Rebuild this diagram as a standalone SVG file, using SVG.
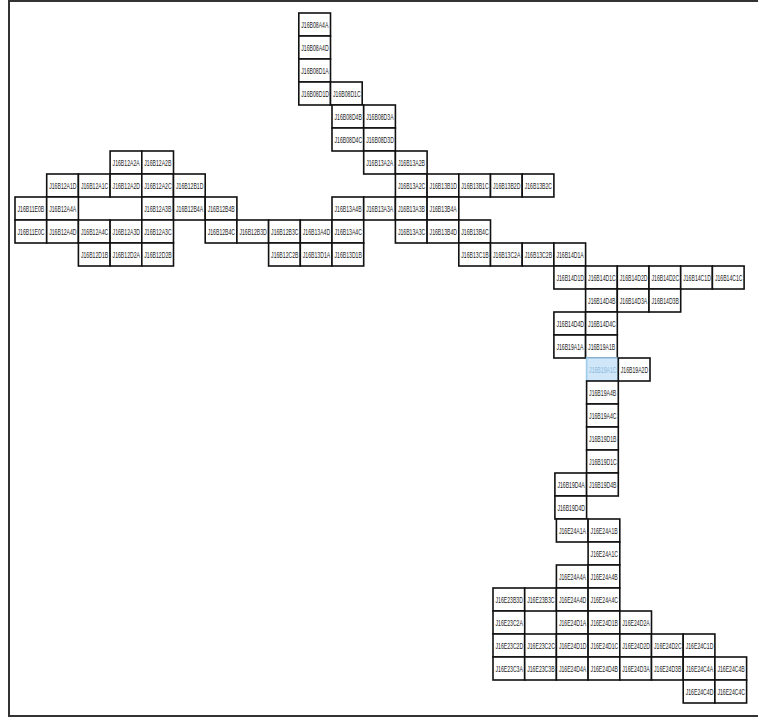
<svg xmlns="http://www.w3.org/2000/svg" width="758" height="727" viewBox="0 0 758 727">
<style>
.b{fill:#fff;stroke:#111;stroke-width:1.6}
.t{font-family:"Liberation Sans",Arial,sans-serif;font-size:9.5px;fill:#1a1a1a}
.h{fill:#cfe7f9;stroke:#9fcbeb;stroke-width:1.6}
.ht{font-family:"Liberation Sans",Arial,sans-serif;font-size:9.5px;fill:#8ab8dc}
</style>
<rect x="0" y="0" width="758" height="727" fill="#fff"/>
<rect x="9" y="1" width="760" height="715" fill="none" stroke="#333" stroke-width="2"/>
<g id="connectors"/>
<g id="nodes">
<g id="J16B08A4A"><rect class="b" x="298.8" y="13" width="31.7" height="23"/><text class="t" transform="translate(301.3 28) scale(0.54 1)">J16B08A4A</text></g>
<g id="J16B08A4D"><rect class="b" x="298.8" y="36" width="31.7" height="23"/><text class="t" transform="translate(301.3 51) scale(0.54 1)">J16B08A4D</text></g>
<g id="J16B08D1A"><rect class="b" x="298.8" y="59" width="31.7" height="23"/><text class="t" transform="translate(301.3 74) scale(0.54 1)">J16B08D1A</text></g>
<g id="J16B08D1D"><rect class="b" x="298.8" y="82" width="31.7" height="23"/><text class="t" transform="translate(301.3 97) scale(0.54 1)">J16B08D1D</text></g>
<g id="J16B08D1C"><rect class="b" x="330.5" y="82" width="31.7" height="23"/><text class="t" transform="translate(333 97) scale(0.54 1)">J16B08D1C</text></g>
<g id="J16B08D4B"><rect class="b" x="332" y="105" width="31.7" height="23"/><text class="t" transform="translate(334.5 120) scale(0.54 1)">J16B08D4B</text></g>
<g id="J16B08D3A"><rect class="b" x="363.7" y="105" width="31.7" height="23"/><text class="t" transform="translate(366.2 120) scale(0.54 1)">J16B08D3A</text></g>
<g id="J16B08D4C"><rect class="b" x="332" y="128" width="31.7" height="23"/><text class="t" transform="translate(334.5 143) scale(0.54 1)">J16B08D4C</text></g>
<g id="J16B08D3D"><rect class="b" x="363.7" y="128" width="31.7" height="23"/><text class="t" transform="translate(366.2 143) scale(0.54 1)">J16B08D3D</text></g>
<g id="J16B12A2A"><rect class="b" x="110.1" y="151" width="31.7" height="23"/><text class="t" transform="translate(112.6 166) scale(0.54 1)">J16B12A2A</text></g>
<g id="J16B12A2B"><rect class="b" x="141.8" y="151" width="31.7" height="23"/><text class="t" transform="translate(144.3 166) scale(0.54 1)">J16B12A2B</text></g>
<g id="J16B13A2A"><rect class="b" x="363.7" y="151" width="31.7" height="23"/><text class="t" transform="translate(366.2 166) scale(0.54 1)">J16B13A2A</text></g>
<g id="J16B13A2B"><rect class="b" x="395.4" y="151" width="31.7" height="23"/><text class="t" transform="translate(397.9 166) scale(0.54 1)">J16B13A2B</text></g>
<g id="J16B12A1D"><rect class="b" x="46.7" y="174" width="31.7" height="23"/><text class="t" transform="translate(49.2 189) scale(0.54 1)">J16B12A1D</text></g>
<g id="J16B12A1C"><rect class="b" x="78.4" y="174" width="31.7" height="23"/><text class="t" transform="translate(80.9 189) scale(0.54 1)">J16B12A1C</text></g>
<g id="J16B12A2D"><rect class="b" x="110.1" y="174" width="31.7" height="23"/><text class="t" transform="translate(112.6 189) scale(0.54 1)">J16B12A2D</text></g>
<g id="J16B12A2C"><rect class="b" x="141.8" y="174" width="31.7" height="23"/><text class="t" transform="translate(144.3 189) scale(0.54 1)">J16B12A2C</text></g>
<g id="J16B12B1D"><rect class="b" x="173.5" y="174" width="31.7" height="23"/><text class="t" transform="translate(176 189) scale(0.54 1)">J16B12B1D</text></g>
<g id="J16B13A2C"><rect class="b" x="395.4" y="174" width="31.7" height="23"/><text class="t" transform="translate(397.9 189) scale(0.54 1)">J16B13A2C</text></g>
<g id="J16B13B1D"><rect class="b" x="427.1" y="174" width="31.7" height="23"/><text class="t" transform="translate(429.6 189) scale(0.54 1)">J16B13B1D</text></g>
<g id="J16B13B1C"><rect class="b" x="458.8" y="174" width="31.7" height="23"/><text class="t" transform="translate(461.3 189) scale(0.54 1)">J16B13B1C</text></g>
<g id="J16B13B2D"><rect class="b" x="490.5" y="174" width="31.7" height="23"/><text class="t" transform="translate(493 189) scale(0.54 1)">J16B13B2D</text></g>
<g id="J16B13B2C"><rect class="b" x="522.2" y="174" width="31.7" height="23"/><text class="t" transform="translate(524.7 189) scale(0.54 1)">J16B13B2C</text></g>
<g id="J16B11E0B"><rect class="b" x="15" y="197" width="31.7" height="23"/><text class="t" transform="translate(17.5 212) scale(0.54 1)">J16B11E0B</text></g>
<g id="J16B12A4A"><rect class="b" x="46.7" y="197" width="31.7" height="23"/><text class="t" transform="translate(49.2 212) scale(0.54 1)">J16B12A4A</text></g>
<g id="J16B12A3B"><rect class="b" x="141.8" y="197" width="31.7" height="23"/><text class="t" transform="translate(144.3 212) scale(0.54 1)">J16B12A3B</text></g>
<g id="J16B12B4A"><rect class="b" x="173.5" y="197" width="31.7" height="23"/><text class="t" transform="translate(176 212) scale(0.54 1)">J16B12B4A</text></g>
<g id="J16B12B4B"><rect class="b" x="205.2" y="197" width="31.7" height="23"/><text class="t" transform="translate(207.7 212) scale(0.54 1)">J16B12B4B</text></g>
<g id="J16B13A4B"><rect class="b" x="332" y="197" width="31.7" height="23"/><text class="t" transform="translate(334.5 212) scale(0.54 1)">J16B13A4B</text></g>
<g id="J16B13A3A"><rect class="b" x="363.7" y="197" width="31.7" height="23"/><text class="t" transform="translate(366.2 212) scale(0.54 1)">J16B13A3A</text></g>
<g id="J16B13A3B"><rect class="b" x="395.4" y="197" width="31.7" height="23"/><text class="t" transform="translate(397.9 212) scale(0.54 1)">J16B13A3B</text></g>
<g id="J16B13B4A"><rect class="b" x="427.1" y="197" width="31.7" height="23"/><text class="t" transform="translate(429.6 212) scale(0.54 1)">J16B13B4A</text></g>
<g id="J16B11E0C"><rect class="b" x="15" y="220" width="31.7" height="23"/><text class="t" transform="translate(17.5 235) scale(0.54 1)">J16B11E0C</text></g>
<g id="J16B12A4D"><rect class="b" x="46.7" y="220" width="31.7" height="23"/><text class="t" transform="translate(49.2 235) scale(0.54 1)">J16B12A4D</text></g>
<g id="J16B12A4C"><rect class="b" x="78.4" y="220" width="31.7" height="23"/><text class="t" transform="translate(80.9 235) scale(0.54 1)">J16B12A4C</text></g>
<g id="J16B12A3D"><rect class="b" x="110.1" y="220" width="31.7" height="23"/><text class="t" transform="translate(112.6 235) scale(0.54 1)">J16B12A3D</text></g>
<g id="J16B12A3C"><rect class="b" x="141.8" y="220" width="31.7" height="23"/><text class="t" transform="translate(144.3 235) scale(0.54 1)">J16B12A3C</text></g>
<g id="J16B12B4C"><rect class="b" x="205.2" y="220" width="31.7" height="23"/><text class="t" transform="translate(207.7 235) scale(0.54 1)">J16B12B4C</text></g>
<g id="J16B12B3D"><rect class="b" x="236.9" y="220" width="31.7" height="23"/><text class="t" transform="translate(239.4 235) scale(0.54 1)">J16B12B3D</text></g>
<g id="J16B12B3C"><rect class="b" x="268.6" y="220" width="31.7" height="23"/><text class="t" transform="translate(271.1 235) scale(0.54 1)">J16B12B3C</text></g>
<g id="J16B13A4D"><rect class="b" x="300.3" y="220" width="31.7" height="23"/><text class="t" transform="translate(302.8 235) scale(0.54 1)">J16B13A4D</text></g>
<g id="J16B13A4C"><rect class="b" x="332" y="220" width="31.7" height="23"/><text class="t" transform="translate(334.5 235) scale(0.54 1)">J16B13A4C</text></g>
<g id="J16B13A3C"><rect class="b" x="395.4" y="220" width="31.7" height="23"/><text class="t" transform="translate(397.9 235) scale(0.54 1)">J16B13A3C</text></g>
<g id="J16B13B4D"><rect class="b" x="427.1" y="220" width="31.7" height="23"/><text class="t" transform="translate(429.6 235) scale(0.54 1)">J16B13B4D</text></g>
<g id="J16B13B4C"><rect class="b" x="458.8" y="220" width="31.7" height="23"/><text class="t" transform="translate(461.3 235) scale(0.54 1)">J16B13B4C</text></g>
<g id="J16B12D1B"><rect class="b" x="78.4" y="243" width="31.7" height="23"/><text class="t" transform="translate(80.9 258) scale(0.54 1)">J16B12D1B</text></g>
<g id="J16B12D2A"><rect class="b" x="110.1" y="243" width="31.7" height="23"/><text class="t" transform="translate(112.6 258) scale(0.54 1)">J16B12D2A</text></g>
<g id="J16B12D2B"><rect class="b" x="141.8" y="243" width="31.7" height="23"/><text class="t" transform="translate(144.3 258) scale(0.54 1)">J16B12D2B</text></g>
<g id="J16B12C2B"><rect class="b" x="268.6" y="243" width="31.7" height="23"/><text class="t" transform="translate(271.1 258) scale(0.54 1)">J16B12C2B</text></g>
<g id="J16B13D1A"><rect class="b" x="300.3" y="243" width="31.7" height="23"/><text class="t" transform="translate(302.8 258) scale(0.54 1)">J16B13D1A</text></g>
<g id="J16B13D1B"><rect class="b" x="332" y="243" width="31.7" height="23"/><text class="t" transform="translate(334.5 258) scale(0.54 1)">J16B13D1B</text></g>
<g id="J16B13C1B"><rect class="b" x="458.8" y="243" width="31.7" height="23"/><text class="t" transform="translate(461.3 258) scale(0.54 1)">J16B13C1B</text></g>
<g id="J16B13C2A"><rect class="b" x="490.5" y="243" width="31.7" height="23"/><text class="t" transform="translate(493 258) scale(0.54 1)">J16B13C2A</text></g>
<g id="J16B13C2B"><rect class="b" x="522.2" y="243" width="31.7" height="23"/><text class="t" transform="translate(524.7 258) scale(0.54 1)">J16B13C2B</text></g>
<g id="J16B14D1A"><rect class="b" x="553.9" y="243" width="31.7" height="23"/><text class="t" transform="translate(556.4 258) scale(0.54 1)">J16B14D1A</text></g>
<g id="J16B14D1D"><rect class="b" x="553.9" y="266" width="31.7" height="23"/><text class="t" transform="translate(556.4 281) scale(0.54 1)">J16B14D1D</text></g>
<g id="J16B14D1C"><rect class="b" x="585.6" y="266" width="31.7" height="23"/><text class="t" transform="translate(588.1 281) scale(0.54 1)">J16B14D1C</text></g>
<g id="J16B14D2D"><rect class="b" x="617.3" y="266" width="31.7" height="23"/><text class="t" transform="translate(619.8 281) scale(0.54 1)">J16B14D2D</text></g>
<g id="J16B14D2C"><rect class="b" x="649" y="266" width="31.7" height="23"/><text class="t" transform="translate(651.5 281) scale(0.54 1)">J16B14D2C</text></g>
<g id="J16B14C1D"><rect class="b" x="680.7" y="266" width="31.7" height="23"/><text class="t" transform="translate(683.2 281) scale(0.54 1)">J16B14C1D</text></g>
<g id="J16B14C1C"><rect class="b" x="712.4" y="266" width="31.7" height="23"/><text class="t" transform="translate(714.9 281) scale(0.54 1)">J16B14C1C</text></g>
<g id="J16B14D4B"><rect class="b" x="585.6" y="289" width="31.7" height="23"/><text class="t" transform="translate(588.1 304) scale(0.54 1)">J16B14D4B</text></g>
<g id="J16B14D3A"><rect class="b" x="617.3" y="289" width="31.7" height="23"/><text class="t" transform="translate(619.8 304) scale(0.54 1)">J16B14D3A</text></g>
<g id="J16B14D3B"><rect class="b" x="649" y="289" width="31.7" height="23"/><text class="t" transform="translate(651.5 304) scale(0.54 1)">J16B14D3B</text></g>
<g id="J16B14D4D"><rect class="b" x="553.9" y="312" width="31.7" height="23"/><text class="t" transform="translate(556.4 327) scale(0.54 1)">J16B14D4D</text></g>
<g id="J16B14D4C"><rect class="b" x="585.6" y="312" width="31.7" height="23"/><text class="t" transform="translate(588.1 327) scale(0.54 1)">J16B14D4C</text></g>
<g id="J16B19A1A"><rect class="b" x="553.9" y="335" width="31.7" height="23"/><text class="t" transform="translate(556.4 350) scale(0.54 1)">J16B19A1A</text></g>
<g id="J16B19A1B"><rect class="b" x="585.6" y="335" width="31.7" height="23"/><text class="t" transform="translate(588.1 350) scale(0.54 1)">J16B19A1B</text></g>
<g id="J16B19A1C"><rect class="h" x="586.6" y="358" width="31.7" height="23"/><text class="ht" transform="translate(589.1 373) scale(0.54 1)">J16B19A1C</text></g>
<g id="J16B19A2D"><rect class="b" x="618.3" y="358" width="31.7" height="23"/><text class="t" transform="translate(620.8 373) scale(0.54 1)">J16B19A2D</text></g>
<g id="J16B19A4B"><rect class="b" x="586.6" y="381" width="31.7" height="23"/><text class="t" transform="translate(589.1 396) scale(0.54 1)">J16B19A4B</text></g>
<g id="J16B19A4C"><rect class="b" x="586.6" y="404" width="31.7" height="23"/><text class="t" transform="translate(589.1 419) scale(0.54 1)">J16B19A4C</text></g>
<g id="J16B19D1B"><rect class="b" x="586.6" y="427" width="31.7" height="23"/><text class="t" transform="translate(589.1 442) scale(0.54 1)">J16B19D1B</text></g>
<g id="J16B19D1C"><rect class="b" x="586.6" y="450" width="31.7" height="23"/><text class="t" transform="translate(589.1 465) scale(0.54 1)">J16B19D1C</text></g>
<g id="J16B19D4A"><rect class="b" x="554.9" y="473" width="31.7" height="23"/><text class="t" transform="translate(557.4 488) scale(0.54 1)">J16B19D4A</text></g>
<g id="J16B19D4B"><rect class="b" x="586.6" y="473" width="31.7" height="23"/><text class="t" transform="translate(589.1 488) scale(0.54 1)">J16B19D4B</text></g>
<g id="J16B19D4D"><rect class="b" x="554.9" y="496" width="31.7" height="23"/><text class="t" transform="translate(557.4 511) scale(0.54 1)">J16B19D4D</text></g>
<g id="J16E24A1A"><rect class="b" x="556.4" y="519" width="31.7" height="23"/><text class="t" transform="translate(558.9 534) scale(0.54 1)">J16E24A1A</text></g>
<g id="J16E24A1B"><rect class="b" x="588.1" y="519" width="31.7" height="23"/><text class="t" transform="translate(590.6 534) scale(0.54 1)">J16E24A1B</text></g>
<g id="J16E24A1C"><rect class="b" x="588.1" y="542" width="31.7" height="23"/><text class="t" transform="translate(590.6 557) scale(0.54 1)">J16E24A1C</text></g>
<g id="J16E24A4A"><rect class="b" x="556.4" y="565" width="31.7" height="23"/><text class="t" transform="translate(558.9 580) scale(0.54 1)">J16E24A4A</text></g>
<g id="J16E24A4B"><rect class="b" x="588.1" y="565" width="31.7" height="23"/><text class="t" transform="translate(590.6 580) scale(0.54 1)">J16E24A4B</text></g>
<g id="J16E23B3D"><rect class="b" x="493" y="588" width="31.7" height="23"/><text class="t" transform="translate(495.5 603) scale(0.54 1)">J16E23B3D</text></g>
<g id="J16E23B3C"><rect class="b" x="524.7" y="588" width="31.7" height="23"/><text class="t" transform="translate(527.2 603) scale(0.54 1)">J16E23B3C</text></g>
<g id="J16E24A4D"><rect class="b" x="556.4" y="588" width="31.7" height="23"/><text class="t" transform="translate(558.9 603) scale(0.54 1)">J16E24A4D</text></g>
<g id="J16E24A4C"><rect class="b" x="588.1" y="588" width="31.7" height="23"/><text class="t" transform="translate(590.6 603) scale(0.54 1)">J16E24A4C</text></g>
<g id="J16E23C2A"><rect class="b" x="493" y="611" width="31.7" height="23"/><text class="t" transform="translate(495.5 626) scale(0.54 1)">J16E23C2A</text></g>
<g id="J16E24D1A"><rect class="b" x="556.4" y="611" width="31.7" height="23"/><text class="t" transform="translate(558.9 626) scale(0.54 1)">J16E24D1A</text></g>
<g id="J16E24D1B"><rect class="b" x="588.1" y="611" width="31.7" height="23"/><text class="t" transform="translate(590.6 626) scale(0.54 1)">J16E24D1B</text></g>
<g id="J16E24D2A"><rect class="b" x="619.8" y="611" width="31.7" height="23"/><text class="t" transform="translate(622.3 626) scale(0.54 1)">J16E24D2A</text></g>
<g id="J16E23C2D"><rect class="b" x="493" y="634" width="31.7" height="23"/><text class="t" transform="translate(495.5 649) scale(0.54 1)">J16E23C2D</text></g>
<g id="J16E23C2C"><rect class="b" x="524.7" y="634" width="31.7" height="23"/><text class="t" transform="translate(527.2 649) scale(0.54 1)">J16E23C2C</text></g>
<g id="J16E24D1D"><rect class="b" x="556.4" y="634" width="31.7" height="23"/><text class="t" transform="translate(558.9 649) scale(0.54 1)">J16E24D1D</text></g>
<g id="J16E24D1C"><rect class="b" x="588.1" y="634" width="31.7" height="23"/><text class="t" transform="translate(590.6 649) scale(0.54 1)">J16E24D1C</text></g>
<g id="J16E24D2D"><rect class="b" x="619.8" y="634" width="31.7" height="23"/><text class="t" transform="translate(622.3 649) scale(0.54 1)">J16E24D2D</text></g>
<g id="J16E24D2C"><rect class="b" x="651.5" y="634" width="31.7" height="23"/><text class="t" transform="translate(654 649) scale(0.54 1)">J16E24D2C</text></g>
<g id="J16E24C1D"><rect class="b" x="683.2" y="634" width="31.7" height="23"/><text class="t" transform="translate(685.7 649) scale(0.54 1)">J16E24C1D</text></g>
<g id="J16E23C3A"><rect class="b" x="493" y="657" width="31.7" height="23"/><text class="t" transform="translate(495.5 672) scale(0.54 1)">J16E23C3A</text></g>
<g id="J16E23C3B"><rect class="b" x="524.7" y="657" width="31.7" height="23"/><text class="t" transform="translate(527.2 672) scale(0.54 1)">J16E23C3B</text></g>
<g id="J16E24D4A"><rect class="b" x="556.4" y="657" width="31.7" height="23"/><text class="t" transform="translate(558.9 672) scale(0.54 1)">J16E24D4A</text></g>
<g id="J16E24D4B"><rect class="b" x="588.1" y="657" width="31.7" height="23"/><text class="t" transform="translate(590.6 672) scale(0.54 1)">J16E24D4B</text></g>
<g id="J16E24D3A"><rect class="b" x="619.8" y="657" width="31.7" height="23"/><text class="t" transform="translate(622.3 672) scale(0.54 1)">J16E24D3A</text></g>
<g id="J16E24D3B"><rect class="b" x="651.5" y="657" width="31.7" height="23"/><text class="t" transform="translate(654 672) scale(0.54 1)">J16E24D3B</text></g>
<g id="J16E24C4A"><rect class="b" x="683.2" y="657" width="31.7" height="23"/><text class="t" transform="translate(685.7 672) scale(0.54 1)">J16E24C4A</text></g>
<g id="J16E24C4B"><rect class="b" x="714.9" y="657" width="31.7" height="23"/><text class="t" transform="translate(717.4 672) scale(0.54 1)">J16E24C4B</text></g>
<g id="J16E24C4D"><rect class="b" x="683.2" y="680" width="31.7" height="23"/><text class="t" transform="translate(685.7 695) scale(0.54 1)">J16E24C4D</text></g>
<g id="J16E24C4C"><rect class="b" x="714.9" y="680" width="31.7" height="23"/><text class="t" transform="translate(717.4 695) scale(0.54 1)">J16E24C4C</text></g>
</g>
</svg>
